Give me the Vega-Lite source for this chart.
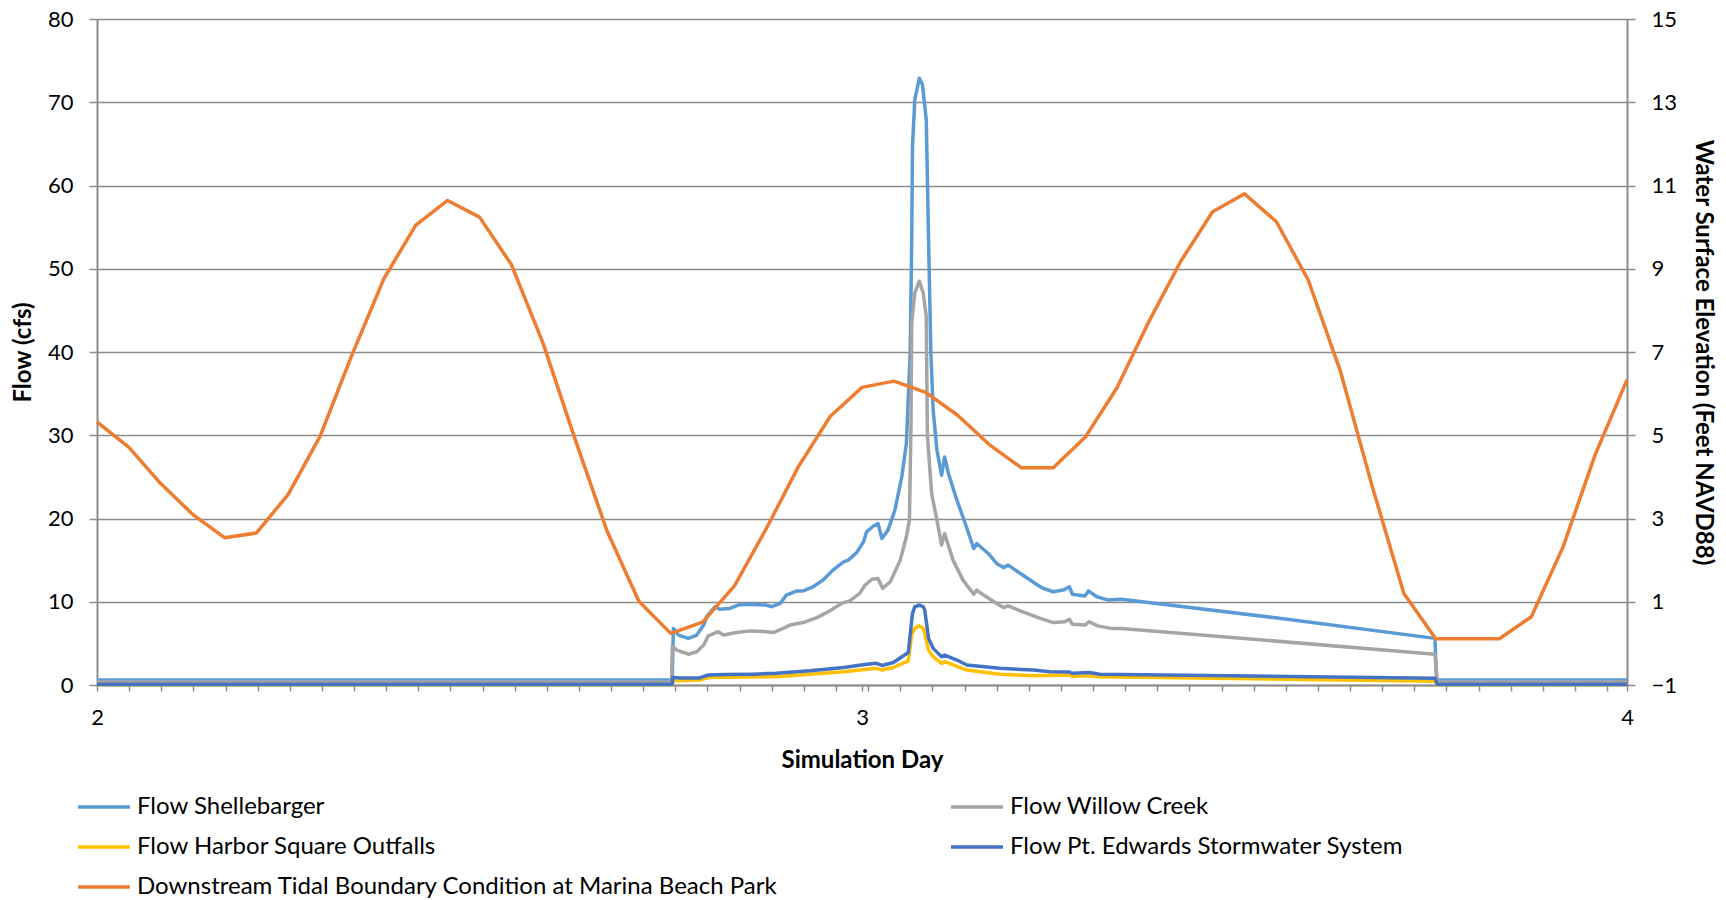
{
  "$schema": "https://vega.github.io/schema/vega-lite/v6.json",
  "autosize": {"type": "none"},
  "width": 1530,
  "height": 666,
  "padding": {"left": 97, "top": 19, "right": 99, "bottom": 215},
  "background": "white",
  "datasets": {
    "flows": [
      {"series": "Flow Shellebarger", "day": 2.0, "flow": 0.6},
      {"series": "Flow Shellebarger", "day": 2.752, "flow": 0.6},
      {"series": "Flow Shellebarger", "day": 2.7534, "flow": 6.8},
      {"series": "Flow Shellebarger", "day": 2.76, "flow": 6.0},
      {"series": "Flow Shellebarger", "day": 2.773, "flow": 5.6},
      {"series": "Flow Shellebarger", "day": 2.784, "flow": 6.0},
      {"series": "Flow Shellebarger", "day": 2.793, "flow": 7.2},
      {"series": "Flow Shellebarger", "day": 2.797, "flow": 8.2},
      {"series": "Flow Shellebarger", "day": 2.808, "flow": 9.4},
      {"series": "Flow Shellebarger", "day": 2.814, "flow": 9.1},
      {"series": "Flow Shellebarger", "day": 2.827, "flow": 9.2},
      {"series": "Flow Shellebarger", "day": 2.838, "flow": 9.6},
      {"series": "Flow Shellebarger", "day": 2.849, "flow": 9.7},
      {"series": "Flow Shellebarger", "day": 2.875, "flow": 9.6},
      {"series": "Flow Shellebarger", "day": 2.882, "flow": 9.4},
      {"series": "Flow Shellebarger", "day": 2.893, "flow": 9.8},
      {"series": "Flow Shellebarger", "day": 2.901, "flow": 10.8},
      {"series": "Flow Shellebarger", "day": 2.915, "flow": 11.3},
      {"series": "Flow Shellebarger", "day": 2.923, "flow": 11.3},
      {"series": "Flow Shellebarger", "day": 2.936, "flow": 11.8},
      {"series": "Flow Shellebarger", "day": 2.949, "flow": 12.6},
      {"series": "Flow Shellebarger", "day": 2.962, "flow": 13.8},
      {"series": "Flow Shellebarger", "day": 2.976, "flow": 14.8},
      {"series": "Flow Shellebarger", "day": 2.982, "flow": 15.0},
      {"series": "Flow Shellebarger", "day": 2.993, "flow": 15.9},
      {"series": "Flow Shellebarger", "day": 3.002, "flow": 17.2},
      {"series": "Flow Shellebarger", "day": 3.006, "flow": 18.4},
      {"series": "Flow Shellebarger", "day": 3.015, "flow": 19.1},
      {"series": "Flow Shellebarger", "day": 3.021, "flow": 19.4},
      {"series": "Flow Shellebarger", "day": 3.026, "flow": 17.6},
      {"series": "Flow Shellebarger", "day": 3.034, "flow": 18.6},
      {"series": "Flow Shellebarger", "day": 3.043, "flow": 21.0},
      {"series": "Flow Shellebarger", "day": 3.052, "flow": 25.0},
      {"series": "Flow Shellebarger", "day": 3.058, "flow": 29.0},
      {"series": "Flow Shellebarger", "day": 3.063, "flow": 40.0},
      {"series": "Flow Shellebarger", "day": 3.065, "flow": 53.5},
      {"series": "Flow Shellebarger", "day": 3.066, "flow": 64.7},
      {"series": "Flow Shellebarger", "day": 3.069, "flow": 70.3},
      {"series": "Flow Shellebarger", "day": 3.075, "flow": 72.9},
      {"series": "Flow Shellebarger", "day": 3.079, "flow": 72.1},
      {"series": "Flow Shellebarger", "day": 3.084, "flow": 67.9},
      {"series": "Flow Shellebarger", "day": 3.087, "flow": 53.5},
      {"series": "Flow Shellebarger", "day": 3.09, "flow": 40.0},
      {"series": "Flow Shellebarger", "day": 3.093, "flow": 33.0},
      {"series": "Flow Shellebarger", "day": 3.098, "flow": 28.2},
      {"series": "Flow Shellebarger", "day": 3.104, "flow": 25.2},
      {"series": "Flow Shellebarger", "day": 3.108, "flow": 27.4},
      {"series": "Flow Shellebarger", "day": 3.113, "flow": 25.4},
      {"series": "Flow Shellebarger", "day": 3.124, "flow": 22.2},
      {"series": "Flow Shellebarger", "day": 3.135, "flow": 19.4},
      {"series": "Flow Shellebarger", "day": 3.146, "flow": 16.4},
      {"series": "Flow Shellebarger", "day": 3.15, "flow": 17.0},
      {"series": "Flow Shellebarger", "day": 3.165, "flow": 15.8},
      {"series": "Flow Shellebarger", "day": 3.176, "flow": 14.6},
      {"series": "Flow Shellebarger", "day": 3.185, "flow": 14.1},
      {"series": "Flow Shellebarger", "day": 3.191, "flow": 14.4},
      {"series": "Flow Shellebarger", "day": 3.207, "flow": 13.4},
      {"series": "Flow Shellebarger", "day": 3.228, "flow": 12.1},
      {"series": "Flow Shellebarger", "day": 3.237, "flow": 11.6},
      {"series": "Flow Shellebarger", "day": 3.25, "flow": 11.2},
      {"series": "Flow Shellebarger", "day": 3.263, "flow": 11.4},
      {"series": "Flow Shellebarger", "day": 3.271, "flow": 11.8},
      {"series": "Flow Shellebarger", "day": 3.275, "flow": 10.9},
      {"series": "Flow Shellebarger", "day": 3.2915, "flow": 10.7},
      {"series": "Flow Shellebarger", "day": 3.296, "flow": 11.3},
      {"series": "Flow Shellebarger", "day": 3.307, "flow": 10.6},
      {"series": "Flow Shellebarger", "day": 3.322, "flow": 10.2},
      {"series": "Flow Shellebarger", "day": 3.339, "flow": 10.3},
      {"series": "Flow Shellebarger", "day": 3.538, "flow": 8.1},
      {"series": "Flow Shellebarger", "day": 3.749, "flow": 5.6},
      {"series": "Flow Shellebarger", "day": 3.751, "flow": 0.6},
      {"series": "Flow Shellebarger", "day": 4.0, "flow": 0.6},

      {"series": "Flow Willow Creek", "day": 2.0, "flow": 0.35},
      {"series": "Flow Willow Creek", "day": 2.751, "flow": 0.35},
      {"series": "Flow Willow Creek", "day": 2.752, "flow": 4.6},
      {"series": "Flow Willow Creek", "day": 2.758, "flow": 4.2},
      {"series": "Flow Willow Creek", "day": 2.773, "flow": 3.7},
      {"series": "Flow Willow Creek", "day": 2.784, "flow": 4.0},
      {"series": "Flow Willow Creek", "day": 2.793, "flow": 4.8},
      {"series": "Flow Willow Creek", "day": 2.799, "flow": 5.9},
      {"series": "Flow Willow Creek", "day": 2.812, "flow": 6.4},
      {"series": "Flow Willow Creek", "day": 2.819, "flow": 6.0},
      {"series": "Flow Willow Creek", "day": 2.836, "flow": 6.3},
      {"series": "Flow Willow Creek", "day": 2.854, "flow": 6.5},
      {"series": "Flow Willow Creek", "day": 2.875, "flow": 6.4},
      {"series": "Flow Willow Creek", "day": 2.884, "flow": 6.3},
      {"series": "Flow Willow Creek", "day": 2.897, "flow": 6.8},
      {"series": "Flow Willow Creek", "day": 2.906, "flow": 7.2},
      {"series": "Flow Willow Creek", "day": 2.923, "flow": 7.5},
      {"series": "Flow Willow Creek", "day": 2.941, "flow": 8.1},
      {"series": "Flow Willow Creek", "day": 2.958, "flow": 8.9},
      {"series": "Flow Willow Creek", "day": 2.973, "flow": 9.8},
      {"series": "Flow Willow Creek", "day": 2.984, "flow": 10.1},
      {"series": "Flow Willow Creek", "day": 2.997, "flow": 11.0},
      {"series": "Flow Willow Creek", "day": 3.004, "flow": 12.0},
      {"series": "Flow Willow Creek", "day": 3.013, "flow": 12.7},
      {"series": "Flow Willow Creek", "day": 3.021, "flow": 12.8},
      {"series": "Flow Willow Creek", "day": 3.027, "flow": 11.6},
      {"series": "Flow Willow Creek", "day": 3.037, "flow": 12.4},
      {"series": "Flow Willow Creek", "day": 3.05, "flow": 15.0},
      {"series": "Flow Willow Creek", "day": 3.058, "flow": 17.8},
      {"series": "Flow Willow Creek", "day": 3.062, "flow": 19.8},
      {"series": "Flow Willow Creek", "day": 3.064, "flow": 31.0},
      {"series": "Flow Willow Creek", "day": 3.065, "flow": 43.5},
      {"series": "Flow Willow Creek", "day": 3.069, "flow": 47.1},
      {"series": "Flow Willow Creek", "day": 3.075, "flow": 48.5},
      {"series": "Flow Willow Creek", "day": 3.08, "flow": 47.1},
      {"series": "Flow Willow Creek", "day": 3.084, "flow": 44.3},
      {"series": "Flow Willow Creek", "day": 3.0855, "flow": 30.0},
      {"series": "Flow Willow Creek", "day": 3.091, "flow": 23.0},
      {"series": "Flow Willow Creek", "day": 3.098, "flow": 19.8},
      {"series": "Flow Willow Creek", "day": 3.104, "flow": 16.8},
      {"series": "Flow Willow Creek", "day": 3.108, "flow": 18.2},
      {"series": "Flow Willow Creek", "day": 3.119, "flow": 15.0},
      {"series": "Flow Willow Creek", "day": 3.132, "flow": 12.6},
      {"series": "Flow Willow Creek", "day": 3.146, "flow": 10.9},
      {"series": "Flow Willow Creek", "day": 3.15, "flow": 11.4},
      {"series": "Flow Willow Creek", "day": 3.159, "flow": 10.8},
      {"series": "Flow Willow Creek", "day": 3.176, "flow": 9.8},
      {"series": "Flow Willow Creek", "day": 3.185, "flow": 9.3},
      {"series": "Flow Willow Creek", "day": 3.191, "flow": 9.5},
      {"series": "Flow Willow Creek", "day": 3.207, "flow": 8.9},
      {"series": "Flow Willow Creek", "day": 3.233, "flow": 8.0},
      {"series": "Flow Willow Creek", "day": 3.25, "flow": 7.5},
      {"series": "Flow Willow Creek", "day": 3.265, "flow": 7.6},
      {"series": "Flow Willow Creek", "day": 3.271, "flow": 7.9},
      {"series": "Flow Willow Creek", "day": 3.275, "flow": 7.3},
      {"series": "Flow Willow Creek", "day": 3.2915, "flow": 7.2},
      {"series": "Flow Willow Creek", "day": 3.297, "flow": 7.6},
      {"series": "Flow Willow Creek", "day": 3.308, "flow": 7.1},
      {"series": "Flow Willow Creek", "day": 3.326, "flow": 6.8},
      {"series": "Flow Willow Creek", "day": 3.339, "flow": 6.8},
      {"series": "Flow Willow Creek", "day": 3.749, "flow": 3.7},
      {"series": "Flow Willow Creek", "day": 3.752, "flow": 0.35},
      {"series": "Flow Willow Creek", "day": 4.0, "flow": 0.35},

      {"series": "Flow Harbor Square Outfalls", "day": 2.0, "flow": 0.05},
      {"series": "Flow Harbor Square Outfalls", "day": 2.752, "flow": 0.05},
      {"series": "Flow Harbor Square Outfalls", "day": 2.753, "flow": 0.5},
      {"series": "Flow Harbor Square Outfalls", "day": 2.788, "flow": 0.6},
      {"series": "Flow Harbor Square Outfalls", "day": 2.799, "flow": 0.9},
      {"series": "Flow Harbor Square Outfalls", "day": 2.888, "flow": 1.0},
      {"series": "Flow Harbor Square Outfalls", "day": 2.932, "flow": 1.3},
      {"series": "Flow Harbor Square Outfalls", "day": 2.976, "flow": 1.6},
      {"series": "Flow Harbor Square Outfalls", "day": 3.006, "flow": 1.9},
      {"series": "Flow Harbor Square Outfalls", "day": 3.019, "flow": 2.0},
      {"series": "Flow Harbor Square Outfalls", "day": 3.026, "flow": 1.8},
      {"series": "Flow Harbor Square Outfalls", "day": 3.041, "flow": 2.1},
      {"series": "Flow Harbor Square Outfalls", "day": 3.0605, "flow": 2.9},
      {"series": "Flow Harbor Square Outfalls", "day": 3.065, "flow": 6.1},
      {"series": "Flow Harbor Square Outfalls", "day": 3.069, "flow": 6.8},
      {"series": "Flow Harbor Square Outfalls", "day": 3.075, "flow": 7.1},
      {"series": "Flow Harbor Square Outfalls", "day": 3.08, "flow": 6.8},
      {"series": "Flow Harbor Square Outfalls", "day": 3.082, "flow": 6.2},
      {"series": "Flow Harbor Square Outfalls", "day": 3.087, "flow": 4.2},
      {"series": "Flow Harbor Square Outfalls", "day": 3.093, "flow": 3.4},
      {"series": "Flow Harbor Square Outfalls", "day": 3.104, "flow": 2.6},
      {"series": "Flow Harbor Square Outfalls", "day": 3.108, "flow": 2.8},
      {"series": "Flow Harbor Square Outfalls", "day": 3.137, "flow": 1.8},
      {"series": "Flow Harbor Square Outfalls", "day": 3.18, "flow": 1.3},
      {"series": "Flow Harbor Square Outfalls", "day": 3.224, "flow": 1.1},
      {"series": "Flow Harbor Square Outfalls", "day": 3.271, "flow": 1.2},
      {"series": "Flow Harbor Square Outfalls", "day": 3.275, "flow": 1.05},
      {"series": "Flow Harbor Square Outfalls", "day": 3.297, "flow": 1.1},
      {"series": "Flow Harbor Square Outfalls", "day": 3.311, "flow": 1.0},
      {"series": "Flow Harbor Square Outfalls", "day": 3.749, "flow": 0.45},
      {"series": "Flow Harbor Square Outfalls", "day": 3.752, "flow": 0.05},
      {"series": "Flow Harbor Square Outfalls", "day": 4.0, "flow": 0.05},

      {"series": "Flow Pt. Edwards Stormwater System", "day": 2.0, "flow": 0.1},
      {"series": "Flow Pt. Edwards Stormwater System", "day": 2.752, "flow": 0.1},
      {"series": "Flow Pt. Edwards Stormwater System", "day": 2.7525, "flow": 0.9},
      {"series": "Flow Pt. Edwards Stormwater System", "day": 2.763, "flow": 0.85},
      {"series": "Flow Pt. Edwards Stormwater System", "day": 2.788, "flow": 0.85},
      {"series": "Flow Pt. Edwards Stormwater System", "day": 2.799, "flow": 1.2},
      {"series": "Flow Pt. Edwards Stormwater System", "day": 2.823, "flow": 1.25},
      {"series": "Flow Pt. Edwards Stormwater System", "day": 2.858, "flow": 1.3},
      {"series": "Flow Pt. Edwards Stormwater System", "day": 2.888, "flow": 1.4},
      {"series": "Flow Pt. Edwards Stormwater System", "day": 2.932, "flow": 1.7},
      {"series": "Flow Pt. Edwards Stormwater System", "day": 2.976, "flow": 2.1},
      {"series": "Flow Pt. Edwards Stormwater System", "day": 3.006, "flow": 2.5},
      {"series": "Flow Pt. Edwards Stormwater System", "day": 3.019, "flow": 2.6},
      {"series": "Flow Pt. Edwards Stormwater System", "day": 3.026, "flow": 2.35},
      {"series": "Flow Pt. Edwards Stormwater System", "day": 3.041, "flow": 2.7},
      {"series": "Flow Pt. Edwards Stormwater System", "day": 3.0605, "flow": 3.9},
      {"series": "Flow Pt. Edwards Stormwater System", "day": 3.066, "flow": 8.6},
      {"series": "Flow Pt. Edwards Stormwater System", "day": 3.069, "flow": 9.4},
      {"series": "Flow Pt. Edwards Stormwater System", "day": 3.075, "flow": 9.6},
      {"series": "Flow Pt. Edwards Stormwater System", "day": 3.08, "flow": 9.4},
      {"series": "Flow Pt. Edwards Stormwater System", "day": 3.082, "flow": 9.0},
      {"series": "Flow Pt. Edwards Stormwater System", "day": 3.087, "flow": 5.6},
      {"series": "Flow Pt. Edwards Stormwater System", "day": 3.093, "flow": 4.4},
      {"series": "Flow Pt. Edwards Stormwater System", "day": 3.104, "flow": 3.4},
      {"series": "Flow Pt. Edwards Stormwater System", "day": 3.108, "flow": 3.6},
      {"series": "Flow Pt. Edwards Stormwater System", "day": 3.124, "flow": 3.0},
      {"series": "Flow Pt. Edwards Stormwater System", "day": 3.137, "flow": 2.4},
      {"series": "Flow Pt. Edwards Stormwater System", "day": 3.18, "flow": 2.0},
      {"series": "Flow Pt. Edwards Stormwater System", "day": 3.224, "flow": 1.8},
      {"series": "Flow Pt. Edwards Stormwater System", "day": 3.246, "flow": 1.6},
      {"series": "Flow Pt. Edwards Stormwater System", "day": 3.271, "flow": 1.56},
      {"series": "Flow Pt. Edwards Stormwater System", "day": 3.275, "flow": 1.4},
      {"series": "Flow Pt. Edwards Stormwater System", "day": 3.297, "flow": 1.5},
      {"series": "Flow Pt. Edwards Stormwater System", "day": 3.311, "flow": 1.3},
      {"series": "Flow Pt. Edwards Stormwater System", "day": 3.749, "flow": 0.8},
      {"series": "Flow Pt. Edwards Stormwater System", "day": 3.752, "flow": 0.1},
      {"series": "Flow Pt. Edwards Stormwater System", "day": 4.0, "flow": 0.1}
    ],
    "tide": [
      {"series": "Downstream Tidal Boundary Condition at Marina Beach Park", "day": 2.0, "elev": 5.32},
      {"series": "Downstream Tidal Boundary Condition at Marina Beach Park", "day": 2.0417, "elev": 4.71},
      {"series": "Downstream Tidal Boundary Condition at Marina Beach Park", "day": 2.0833, "elev": 3.84},
      {"series": "Downstream Tidal Boundary Condition at Marina Beach Park", "day": 2.125, "elev": 3.1},
      {"series": "Downstream Tidal Boundary Condition at Marina Beach Park", "day": 2.1667, "elev": 2.54},
      {"series": "Downstream Tidal Boundary Condition at Marina Beach Park", "day": 2.2083, "elev": 2.65},
      {"series": "Downstream Tidal Boundary Condition at Marina Beach Park", "day": 2.25, "elev": 3.58},
      {"series": "Downstream Tidal Boundary Condition at Marina Beach Park", "day": 2.2917, "elev": 4.98},
      {"series": "Downstream Tidal Boundary Condition at Marina Beach Park", "day": 2.3333, "elev": 6.93},
      {"series": "Downstream Tidal Boundary Condition at Marina Beach Park", "day": 2.375, "elev": 8.76},
      {"series": "Downstream Tidal Boundary Condition at Marina Beach Park", "day": 2.4167, "elev": 10.05},
      {"series": "Downstream Tidal Boundary Condition at Marina Beach Park", "day": 2.4583, "elev": 10.64},
      {"series": "Downstream Tidal Boundary Condition at Marina Beach Park", "day": 2.5, "elev": 10.24},
      {"series": "Downstream Tidal Boundary Condition at Marina Beach Park", "day": 2.5417, "elev": 9.1},
      {"series": "Downstream Tidal Boundary Condition at Marina Beach Park", "day": 2.5833, "elev": 7.2},
      {"series": "Downstream Tidal Boundary Condition at Marina Beach Park", "day": 2.625, "elev": 4.9},
      {"series": "Downstream Tidal Boundary Condition at Marina Beach Park", "day": 2.6667, "elev": 2.7},
      {"series": "Downstream Tidal Boundary Condition at Marina Beach Park", "day": 2.7083, "elev": 1.01},
      {"series": "Downstream Tidal Boundary Condition at Marina Beach Park", "day": 2.75, "elev": 0.24},
      {"series": "Downstream Tidal Boundary Condition at Marina Beach Park", "day": 2.7917, "elev": 0.51},
      {"series": "Downstream Tidal Boundary Condition at Marina Beach Park", "day": 2.8333, "elev": 1.38},
      {"series": "Downstream Tidal Boundary Condition at Marina Beach Park", "day": 2.875, "elev": 2.76},
      {"series": "Downstream Tidal Boundary Condition at Marina Beach Park", "day": 2.9167, "elev": 4.24},
      {"series": "Downstream Tidal Boundary Condition at Marina Beach Park", "day": 2.9583, "elev": 5.45},
      {"series": "Downstream Tidal Boundary Condition at Marina Beach Park", "day": 3.0, "elev": 6.15},
      {"series": "Downstream Tidal Boundary Condition at Marina Beach Park", "day": 3.0417, "elev": 6.3},
      {"series": "Downstream Tidal Boundary Condition at Marina Beach Park", "day": 3.0833, "elev": 6.03},
      {"series": "Downstream Tidal Boundary Condition at Marina Beach Park", "day": 3.125, "elev": 5.48},
      {"series": "Downstream Tidal Boundary Condition at Marina Beach Park", "day": 3.1667, "elev": 4.77},
      {"series": "Downstream Tidal Boundary Condition at Marina Beach Park", "day": 3.2083, "elev": 4.22},
      {"series": "Downstream Tidal Boundary Condition at Marina Beach Park", "day": 3.25, "elev": 4.22},
      {"series": "Downstream Tidal Boundary Condition at Marina Beach Park", "day": 3.2917, "elev": 4.95},
      {"series": "Downstream Tidal Boundary Condition at Marina Beach Park", "day": 3.3333, "elev": 6.14},
      {"series": "Downstream Tidal Boundary Condition at Marina Beach Park", "day": 3.375, "elev": 7.73},
      {"series": "Downstream Tidal Boundary Condition at Marina Beach Park", "day": 3.4167, "elev": 9.18},
      {"series": "Downstream Tidal Boundary Condition at Marina Beach Park", "day": 3.4583, "elev": 10.37},
      {"series": "Downstream Tidal Boundary Condition at Marina Beach Park", "day": 3.5, "elev": 10.8},
      {"series": "Downstream Tidal Boundary Condition at Marina Beach Park", "day": 3.5417, "elev": 10.13},
      {"series": "Downstream Tidal Boundary Condition at Marina Beach Park", "day": 3.5833, "elev": 8.73},
      {"series": "Downstream Tidal Boundary Condition at Marina Beach Park", "day": 3.625, "elev": 6.56},
      {"series": "Downstream Tidal Boundary Condition at Marina Beach Park", "day": 3.6667, "elev": 3.79},
      {"series": "Downstream Tidal Boundary Condition at Marina Beach Park", "day": 3.7083, "elev": 1.2},
      {"series": "Downstream Tidal Boundary Condition at Marina Beach Park", "day": 3.75, "elev": 0.11},
      {"series": "Downstream Tidal Boundary Condition at Marina Beach Park", "day": 3.7917, "elev": 0.11},
      {"series": "Downstream Tidal Boundary Condition at Marina Beach Park", "day": 3.8333, "elev": 0.11},
      {"series": "Downstream Tidal Boundary Condition at Marina Beach Park", "day": 3.875, "elev": 0.64},
      {"series": "Downstream Tidal Boundary Condition at Marina Beach Park", "day": 3.9167, "elev": 2.33},
      {"series": "Downstream Tidal Boundary Condition at Marina Beach Park", "day": 3.9583, "elev": 4.53},
      {"series": "Downstream Tidal Boundary Condition at Marina Beach Park", "day": 4.0, "elev": 6.33}
    ]
  },
  "config": {
    "font": "Lato",
    "view": {"stroke": null},
    "axis": {
      "labelFont": "Lato",
      "labelFontSize": 22,
      "labelColor": "#000000",
      "titleFont": "Lato",
      "titleFontSize": 24,
      "titleFontWeight": "bold",
      "titleColor": "#000000",
      "domainColor": "#8C8C8C",
      "domainWidth": 2,
      "tickColor": "#8C8C8C",
      "tickWidth": 1.5,
      "gridColor": "#8C8C8C",
      "gridWidth": 1.4
    },
    "legend": {
      "labelFont": "Lato",
      "labelFontSize": 24,
      "labelColor": "#000000"
    }
  },
  "encoding": {
    "x": {
      "field": "day",
      "type": "quantitative",
      "scale": {"domain": [2, 4], "nice": false, "zero": false},
      "axis": {
        "title": "Simulation Day",
        "values": [2, 2.042, 2.084, 2.126, 2.168, 2.21, 2.252, 2.294, 2.336, 2.378, 2.42, 2.462, 2.504, 2.546, 2.588, 2.63, 2.672, 2.714, 2.756, 2.798, 2.84, 2.882, 2.924, 2.966, 3, 3.008, 3.05, 3.092, 3.134, 3.176, 3.218, 3.26, 3.302, 3.344, 3.386, 3.428, 3.47, 3.512, 3.554, 3.596, 3.638, 3.68, 3.722, 3.764, 3.806, 3.848, 3.89, 3.932, 3.974, 4],
        "labelExpr": "datum.value == 2 ? '2' : datum.value == 3 ? '3' : datum.value == 4 ? '4' : ''",
        "labelOverlap": false,
        "labelBound": false,
        "labelFlush": false,
        "tickSize": 6,
        "labelPadding": 16,
        "titlePadding": 20,
        "grid": false
      }
    },
    "color": {
      "field": "series",
      "type": "nominal",
      "scale": {
        "domain": ["Flow Shellebarger", "Flow Harbor Square Outfalls", "Downstream Tidal Boundary Condition at Marina Beach Park", "Flow Willow Creek", "Flow Pt. Edwards Stormwater System"],
        "range": ["#5B9BD5", "#FFC000", "#ED7D31", "#A5A5A5", "#4472C4"]
      },
      "legend": {
        "title": null,
        "orient": "none",
        "legendX": -21,
        "legendY": 760,
        "columns": 2,
        "symbolType": "stroke",
        "symbolSize": 2700,
        "symbolStrokeWidth": 3.5,
        "labelOffset": 5,
        "columnPadding": 166,
        "rowPadding": -12,
        "labelLimit": 800
      }
    }
  },
  "layer": [
    {
      "encoding": {
        "y": {
          "field": "flow",
          "type": "quantitative",
          "scale": {"domain": [0, 80], "nice": false},
          "axis": {
            "title": "Flow (cfs)",
            "values": [0, 10, 20, 30, 40, 50, 60, 70, 80],
            "tickSize": 8,
            "labelPadding": 16,
            "titlePadding": 12,
            "grid": true
          }
        }
      },
      "layer": [
        {"data": {"name": "flows"}, "transform": [{"filter": "datum.series == 'Flow Shellebarger'"}], "mark": {"type": "line", "strokeWidth": 3.5, "strokeJoin": "round"}},
        {"data": {"name": "flows"}, "transform": [{"filter": "datum.series == 'Flow Willow Creek'"}], "mark": {"type": "line", "strokeWidth": 3.5, "strokeJoin": "round"}},
        {"data": {"name": "flows"}, "transform": [{"filter": "datum.series == 'Flow Harbor Square Outfalls'"}], "mark": {"type": "line", "strokeWidth": 3.5, "strokeJoin": "round"}},
        {"data": {"name": "flows"}, "transform": [{"filter": "datum.series == 'Flow Pt. Edwards Stormwater System'"}], "mark": {"type": "line", "strokeWidth": 3.5, "strokeJoin": "round"}}
      ]
    },
    {
      "data": {"name": "tide"},
      "mark": {"type": "line", "strokeWidth": 3.5, "strokeJoin": "round"},
      "encoding": {
        "y": {
          "field": "elev",
          "type": "quantitative",
          "scale": {"domain": [-1, 15], "nice": false, "zero": false},
          "axis": {
            "orient": "right",
            "title": "Water Surface Elevation (Feet NAVD88)",
            "values": [-1, 1, 3, 5, 7, 9, 11, 13, 15],
            "tickSize": 8,
            "labelPadding": 16,
            "titlePadding": 14,
            "grid": false
          }
        }
      }
    }
  ],
  "resolve": {"scale": {"y": "independent"}}
}
